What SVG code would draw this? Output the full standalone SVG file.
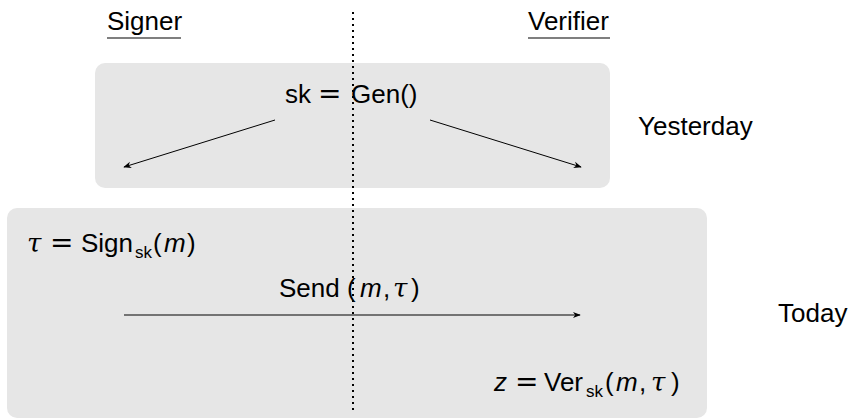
<svg xmlns="http://www.w3.org/2000/svg" width="850" height="419" viewBox="0 0 850 419">
<style>
.t{font-family:"Liberation Sans",Arial,sans-serif;font-size:26px;fill:#000}
.m{font-style:italic}
.g{font-family:"DejaVu Serif","Liberation Serif",serif;font-style:italic}
.eq{font-family:"DejaVu Sans",sans-serif;font-size:28px}
.sub{font-size:17px}
.box{fill:#e6e6e6}
.ar{stroke:#000;stroke-width:1;fill:none;marker-end:url(#ah)}
</style>
<defs>
<marker id="ah" viewBox="0 0 10 10" refX="9" refY="5" markerWidth="8" markerHeight="8" orient="auto" markerUnits="userSpaceOnUse">
<path d="M0,1 L10,5 L0,9 L3,5 Z" fill="#000"/>
</marker>
</defs>
<g id="yesterday-box"><rect class="box" x="95" y="63" width="515" height="125" rx="10"/></g>
<g id="today-box"><rect class="box" x="7" y="208" width="700" height="210" rx="10"/></g>
<g id="signer"><text class="t" x="107" y="30">Signer</text><line x1="107" y1="38" x2="181" y2="38" stroke="#000" stroke-width="1.2"/></g>
<g id="verifier"><text class="t" x="528" y="30">Verifier</text><line x1="528" y1="38" x2="610" y2="38" stroke="#000" stroke-width="1.2"/></g>
<g id="divider"><line x1="353" y1="12" x2="353" y2="414" stroke="#000" stroke-width="2" stroke-dasharray="2,4"/></g>
<g id="gen"><text class="t" y="103"><tspan x="285">sk</tspan><tspan class="eq" x="318">=</tspan><tspan x="351">Gen()</tspan></text></g>
<g id="yesterday-label"><text class="t" x="638" y="135">Yesterday</text></g>
<g id="today-label"><text class="t" x="778" y="322">Today</text></g>
<g id="sign"><text class="t" y="252"><tspan class="g" x="27">τ</tspan><tspan class="eq" x="50">=</tspan><tspan x="81">Sign</tspan><tspan class="sub" x="135" dy="6">sk</tspan><tspan x="153" dy="-6">(</tspan><tspan class="m" x="164">m</tspan><tspan x="187">)</tspan></text></g>
<g id="send-label"><text class="t" y="297"><tspan x="279">Send</tspan><tspan x="347">(</tspan><tspan class="m" x="360">m</tspan><tspan x="383">,</tspan><tspan class="g" x="393">τ</tspan><tspan x="411">)</tspan></text></g>
<g id="ver"><text class="t" y="391"><tspan class="m" x="494">z</tspan><tspan class="eq" x="515">=</tspan><tspan x="544">Ver</tspan><tspan class="sub" x="586" dy="6">sk</tspan><tspan x="605" dy="-6">(</tspan><tspan class="m" x="616">m</tspan><tspan x="639">,</tspan><tspan class="g" x="651">τ</tspan><tspan x="671">)</tspan></text></g>
<g id="connectors">
<line class="ar" x1="275" y1="120" x2="124" y2="167"/>
<line class="ar" x1="430" y1="120" x2="581" y2="167"/>
<line class="ar" x1="124" y1="315" x2="580" y2="315"/>
</g>
</svg>
